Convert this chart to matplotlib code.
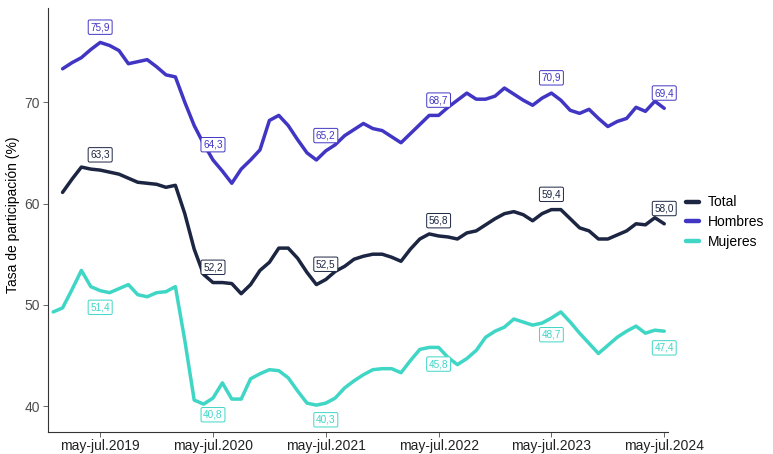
import numpy as np
import matplotlib.pyplot as plt

# ---------------- data ----------------
# rolling quarters, index 0 = dic-feb.2019 ... index 65 = may-jul.2024
meses = ["ene", "feb", "mar", "abr", "may", "jun", "jul", "ago", "sep", "oct", "nov", "dic"]
periodos = []
for k in range(66):
    m0 = (k - 1) % 12
    m2 = (k + 1) % 12
    year_end = 2019 + (k + 1) // 12
    periodos.append(f"{meses[m0]}-{meses[m2]}.{year_end}")

tick_labels = ["may-jul.2019", "may-jul.2020", "may-jul.2021",
               "may-jul.2022", "may-jul.2023", "may-jul.2024"]

total = [np.nan,
         61.1, 62.4, 63.6, 63.4, 63.3, 63.1, 62.9, 62.5, 62.1, 62.0,
         61.9, 61.6, 61.8, 59.0, 55.5, 53.0, 52.2, 52.2, 52.1, 51.1,
         52.0, 53.4, 54.2, 55.6, 55.6, 54.6, 53.2, 52.0, 52.5, 53.3,
         53.8, 54.5, 54.8, 55.0, 55.0, 54.7, 54.3, 55.5, 56.5, 57.0,
         56.8, 56.7, 56.5, 57.1, 57.3, 57.9, 58.5, 59.0, 59.2, 58.9,
         58.3, 59.0, 59.4, 59.4, 58.5, 57.6, 57.3, 56.5, 56.5, 56.9,
         57.3, 58.0, 57.9, 58.6, 58.0]

hombres = [np.nan,
           73.3, 73.9, 74.4, 75.2, 75.9, 75.6, 75.1, 73.8, 74.0, 74.2,
           73.5, 72.7, 72.5, 70.0, 67.7, 65.9, 64.3, 63.2, 62.0, 63.4,
           64.3, 65.3, 68.2, 68.7, 67.7, 66.3, 65.0, 64.3, 65.2, 65.8,
           66.7, 67.3, 67.9, 67.4, 67.2, 66.6, 66.0, 66.9, 67.8, 68.7,
           68.7, 69.5, 70.2, 70.9, 70.3, 70.3, 70.6, 71.4, 70.8, 70.2,
           69.7, 70.4, 70.9, 70.2, 69.2, 68.9, 69.3, 68.4, 67.6, 68.1,
           68.4, 69.5, 69.1, 70.1, 69.4]

mujeres = [49.3,
           49.7, 51.5, 53.4, 51.8, 51.4, 51.2, 51.6, 52.0, 51.0, 50.8,
           51.2, 51.3, 51.8, 46.5, 40.6, 40.2, 40.8, 42.3, 40.7, 40.7,
           42.7, 43.2, 43.6, 43.5, 42.8, 41.5, 40.3, 40.1, 40.3, 40.8,
           41.8, 42.5, 43.1, 43.6, 43.7, 43.7, 43.3, 44.5, 45.6, 45.8,
           45.8, 44.8, 44.1, 44.7, 45.5, 46.8, 47.4, 47.8, 48.6, 48.3,
           48.0, 48.2, 48.7, 49.3, 48.3, 47.2, 46.2, 45.2, 46.0, 46.8,
           47.4, 47.9, 47.2, 47.5, 47.4]

series_names = ["Total", "Hombres", "Mujeres"]
series_values = [total, hombres, mujeres]
colors = ["#1c2541", "#4136c4", "#3fd6c6"]
label_offsets = [11, 11, -12]  # points (vertical offset of value labels)

# ---------------- plot ----------------
plt.rcParams['font.family'] = ['Liberation Sans', 'DejaVu Sans']
fig = plt.figure(figsize=(7.73, 4.54), dpi=100)
ax = fig.add_axes([48 / 773, 1 - 432 / 454, 620 / 773, 424 / 454])

x = np.arange(len(periodos))
tick_pos = [periodos.index(t) for t in tick_labels]

for name, vals, c, off in zip(series_names, series_values, colors, label_offsets):
    v = np.array(vals, dtype=float)
    ax.plot(x, v, color=c, lw=2.5, solid_joinstyle='round', solid_capstyle='round',
            label=name)
    for p in tick_pos:
        ax.annotate(f"{v[p]:.1f}".replace(".", ","), xy=(x[p], v[p]),
                    xytext=(0, off), textcoords='offset points',
                    ha='center', va='center', fontsize=7.2, color=c,
                    bbox=dict(boxstyle='round,pad=0.22,rounding_size=0.15',
                              fc='white', ec=c, lw=0.7))

ax.set_xlim(-0.55, 65.4)
ax.set_ylim(37.45, 79.3)
ax.set_xticks(tick_pos)
ax.set_xticklabels(tick_labels)
ax.set_yticks([40, 50, 60, 70])
ax.tick_params(axis='both', labelsize=10, colors='#4d4d4d', length=3.5, width=0.6,
               pad=2.5)
ax.tick_params(axis='x', labelcolor='#222222', pad=1.5)
for s in ['top', 'right']:
    ax.spines[s].set_visible(False)
for s in ['left', 'bottom']:
    ax.spines[s].set_linewidth(0.8)
    ax.spines[s].set_color('#333333')

fig.text(13 / 773, 1 - 215 / 454, "Tasa de participación (%)", rotation=90,
         ha='center', va='center', fontsize=10, color='black')

leg = fig.legend(loc='center left', bbox_to_anchor=(686 / 773, 1 - 222 / 454),
                 frameon=False, fontsize=10, handlelength=0.9,
                 handletextpad=0.7, labelspacing=0.4, borderpad=0,
                 borderaxespad=0)
for line in leg.get_lines():
    line.set_linewidth(3.2)

fig.savefig("out.png", dpi=100)
